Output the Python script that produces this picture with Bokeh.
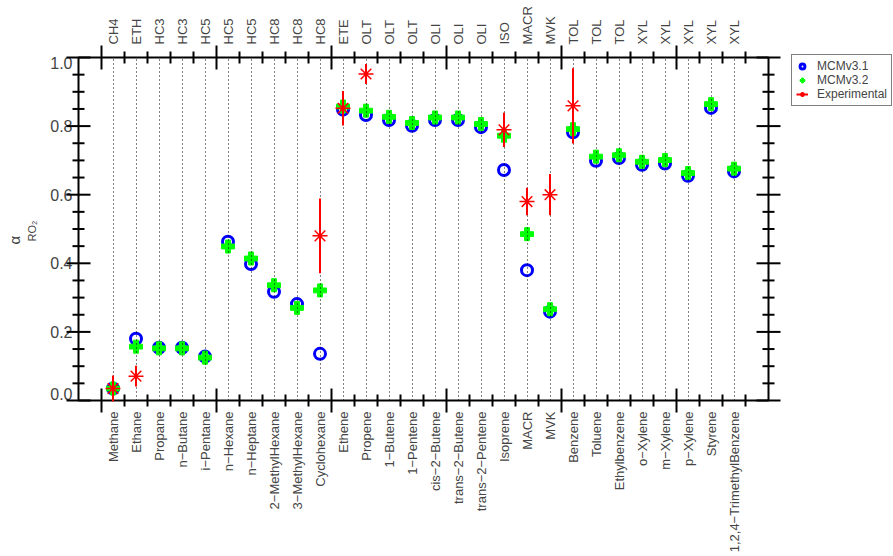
import math
from bokeh.plotting import figure
from bokeh.models import (LinearAxis, FixedTicker, Range1d, Legend, LegendItem,
                          Title, ColumnDataSource)
from bokeh.embed import file_html
from bokeh.resources import INLINE

# ---------------- data ----------------
species = ["Methane", "Ethane", "Propane", "n\u2212Butane", "i\u2212Pentane", "n\u2212Hexane",
           "n\u2212Heptane", "2\u2212MethylHexane", "3\u2212MethylHexane", "Cyclohexane",
           "Ethene", "Propene", "1\u2212Butene", "1\u2212Pentene", "cis\u22122\u2212Butene",
           "trans\u22122\u2212Butene", "trans\u22122\u2212Pentene", "Isoprene", "MACR", "MVK",
           "Benzene", "Toluene", "Ethylbenzene", "o\u2212Xylene", "m\u2212Xylene", "p\u2212Xylene",
           "Styrene", "1,2,4\u2212TrimethylBenzene"]
mechanism = ["CH4", "ETH", "HC3", "HC3", "HC5", "HC5", "HC5", "HC8", "HC8", "HC8",
             "ETE", "OLT", "OLT", "OLT", "OLI", "OLI", "OLI", "ISO", "MACR", "MVK",
             "TOL", "TOL", "TOL", "XYL", "XYL", "XYL", "XYL", "XYL"]
mcm31 = [0.035, 0.180, 0.154, 0.154, 0.128, 0.463, 0.398, 0.317, 0.281, 0.136,
         0.848, 0.832, 0.818, 0.801, 0.818, 0.818, 0.797, 0.672, 0.380, 0.259,
         0.782, 0.699, 0.707, 0.687, 0.691, 0.655, 0.853, 0.668]
mcm32 = [0.035, 0.157, 0.152, 0.152, 0.125, 0.449, 0.414, 0.336, 0.270, 0.321,
         0.857, 0.845, 0.827, 0.809, 0.825, 0.825, 0.806, 0.772, 0.485, 0.266,
         0.791, 0.711, 0.715, 0.696, 0.701, 0.663, 0.864, 0.676]
exp_species = ["Methane", "Ethane", "Cyclohexane", "Ethene", "Propene",
               "Isoprene", "MACR", "MVK", "Benzene"]
exp_value = [0.035, 0.071, 0.480, 0.852, 0.952, 0.789, 0.580, 0.600, 0.859]
exp_error = [0.038, 0.030, 0.109, 0.050, 0.029, 0.050, 0.040, 0.060, 0.110]
y_ticks = [0.0, 0.2, 0.4, 0.6, 0.8, 1.0]
y_tick_labels = ["0.0", "0.2", "0.4", "0.6", "0.8", "1.0"]

FONT = "Liberation Sans"
n = len(species)
xs = list(range(n))
exp_x = [species.index(s) for s in exp_species]
X0, X1 = -1.5, n + 0.5
Y0, Y1 = 0.0, 1.0

FRAME_W, FRAME_H = 690, 343
BL, BR, BT, BB = 78, 120, 57, 149

p = figure(frame_width=FRAME_W, frame_height=FRAME_H, output_backend="svg",
           toolbar_location=None,
           x_range=Range1d(X0, X1), y_range=Range1d(Y0, Y1),
           x_axis_location=None, y_axis_location=None,
           min_border_left=BL, min_border_right=BR, min_border_top=BT,
           min_border_bottom=BB)
p.outline_line_color = "black"
p.outline_line_width = 2
p.background_fill_color = "white"

# tick positions (ticks lie between species)
half = [i - 0.5 for i in range(n + 1)]
x_major = [h for h in half if (h + 0.5) % 5 == 0]
x_minor = [h for h in half if h not in x_major]
y_minor = [round(i * 0.05, 2) for i in range(21) if round(i * 0.05, 2) not in y_ticks]


def label_axis(labels, standoff):
    ax = LinearAxis(ticker=FixedTicker(ticks=xs, minor_ticks=[]))
    ax.major_tick_in = 0
    ax.major_tick_out = 0
    ax.major_tick_line_color = None
    ax.minor_tick_line_color = None
    ax.axis_line_color = None
    ax.major_label_overrides = {i: lab for i, lab in enumerate(labels)}
    ax.major_label_orientation = math.pi / 2
    ax.major_label_text_font = FONT
    ax.major_label_text_font_size = "13px"
    ax.major_label_standoff = standoff
    return ax


p.add_layout(label_axis(species, 11), "below")
p.add_layout(label_axis(mechanism, 13), "above")

# y tick labels: the end labels are nudged inside the frame, as in the original
y_label_pos = [y_ticks[0] + 7.0 / FRAME_H] + y_ticks[1:-1] + [y_ticks[-1] - 5.0 / FRAME_H]
yl = LinearAxis(ticker=FixedTicker(ticks=y_label_pos, minor_ticks=[]))
yl.major_tick_in = 0
yl.major_tick_out = 0
yl.major_tick_line_color = None
yl.minor_tick_line_color = None
yl.axis_line_color = None
yl.major_label_overrides = {pos: lab for pos, lab in zip(y_label_pos, y_tick_labels)}
yl.major_label_text_font = FONT
yl.major_label_text_font_size = "16px"
yl.major_label_standoff = 6
yl.axis_label = " "
yl.axis_label_standoff = 0
yl.axis_label_text_font_size = "6px"
p.add_layout(yl, "left")

# y-axis title: alpha with subscript RO2 (two vertical titles)
t_sub = Title(text="RO\u2082", align="left", offset=159, text_font=FONT,
              text_font_size="11px", text_font_style="normal", standoff=2)
t_alpha = Title(text="\u03b1", align="left", offset=156, text_font=FONT,
                text_font_size="15px", text_font_style="normal", standoff=0)
p.add_layout(t_sub, "left")
p.add_layout(t_alpha, "left")

# inward tick marks drawn as dash markers centred on the frame edges
# (the outer half is clipped by the frame)
tick_style = dict(marker="dash", line_color="black", line_width=2, level="annotation")
for yy in (Y0, Y1):
    p.scatter(x=x_major, y=[yy] * len(x_major), size=24, angle=math.pi / 2, **tick_style)
    p.scatter(x=x_minor, y=[yy] * len(x_minor), size=12, angle=math.pi / 2, **tick_style)
for xx in (X0, X1):
    p.scatter(x=[xx] * len(y_ticks), y=y_ticks, size=24, **tick_style)
    p.scatter(x=[xx] * len(y_minor), y=y_minor, size=12, **tick_style)

# vertical dotted lines at each species
p.xgrid.ticker = FixedTicker(ticks=xs)
p.xgrid.grid_line_color = "black"
p.xgrid.grid_line_width = 1
p.xgrid.grid_line_dash = "1 3"
p.xgrid.level = "guide"
p.ygrid.grid_line_color = None

src = ColumnDataSource(dict(x=xs, m31=mcm31, m32=mcm32))
r31 = p.scatter("x", "m31", source=src, marker="circle", size=11,
                fill_color=None, line_color="#0000FF", line_width=3)
r32 = p.scatter("x", "m32", source=src, marker="plus", size=13,
                fill_color="#00FF00", line_color="#00FF00", line_width=1)

esrc = ColumnDataSource(dict(x=exp_x, y=exp_value,
                             lo=[v - e for v, e in zip(exp_value, exp_error)],
                             hi=[v + e for v, e in zip(exp_value, exp_error)]))
rerr = p.segment(x0="x", y0="lo", x1="x", y1="hi", source=esrc,
                 line_color="#FF0000", line_width=2, level="annotation")
rexp = p.scatter("x", "y", source=esrc, marker="asterisk", size=15,
                 line_color="#FF0000", line_width=1.5, level="annotation")

legend = Legend(items=[LegendItem(label="MCMv3.1", renderers=[r31]),
                       LegendItem(label="MCMv3.2", renderers=[r32]),
                       LegendItem(label="Experimental", renderers=[rexp, rerr])],
                location=(23, 294), orientation="vertical")
legend.label_text_font = FONT
legend.label_text_font_size = "12px"
legend.glyph_height = 14
legend.glyph_width = 12
legend.label_height = 14
legend.spacing = 0
legend.padding = 4
legend.margin = 0
legend.label_standoff = 9
legend.border_line_color = "black"
legend.border_line_width = 1.5
legend.background_fill_color = "white"
legend.background_fill_alpha = 1
p.add_layout(legend, "right")

open("out.html", "w").write(file_html(p, INLINE))
